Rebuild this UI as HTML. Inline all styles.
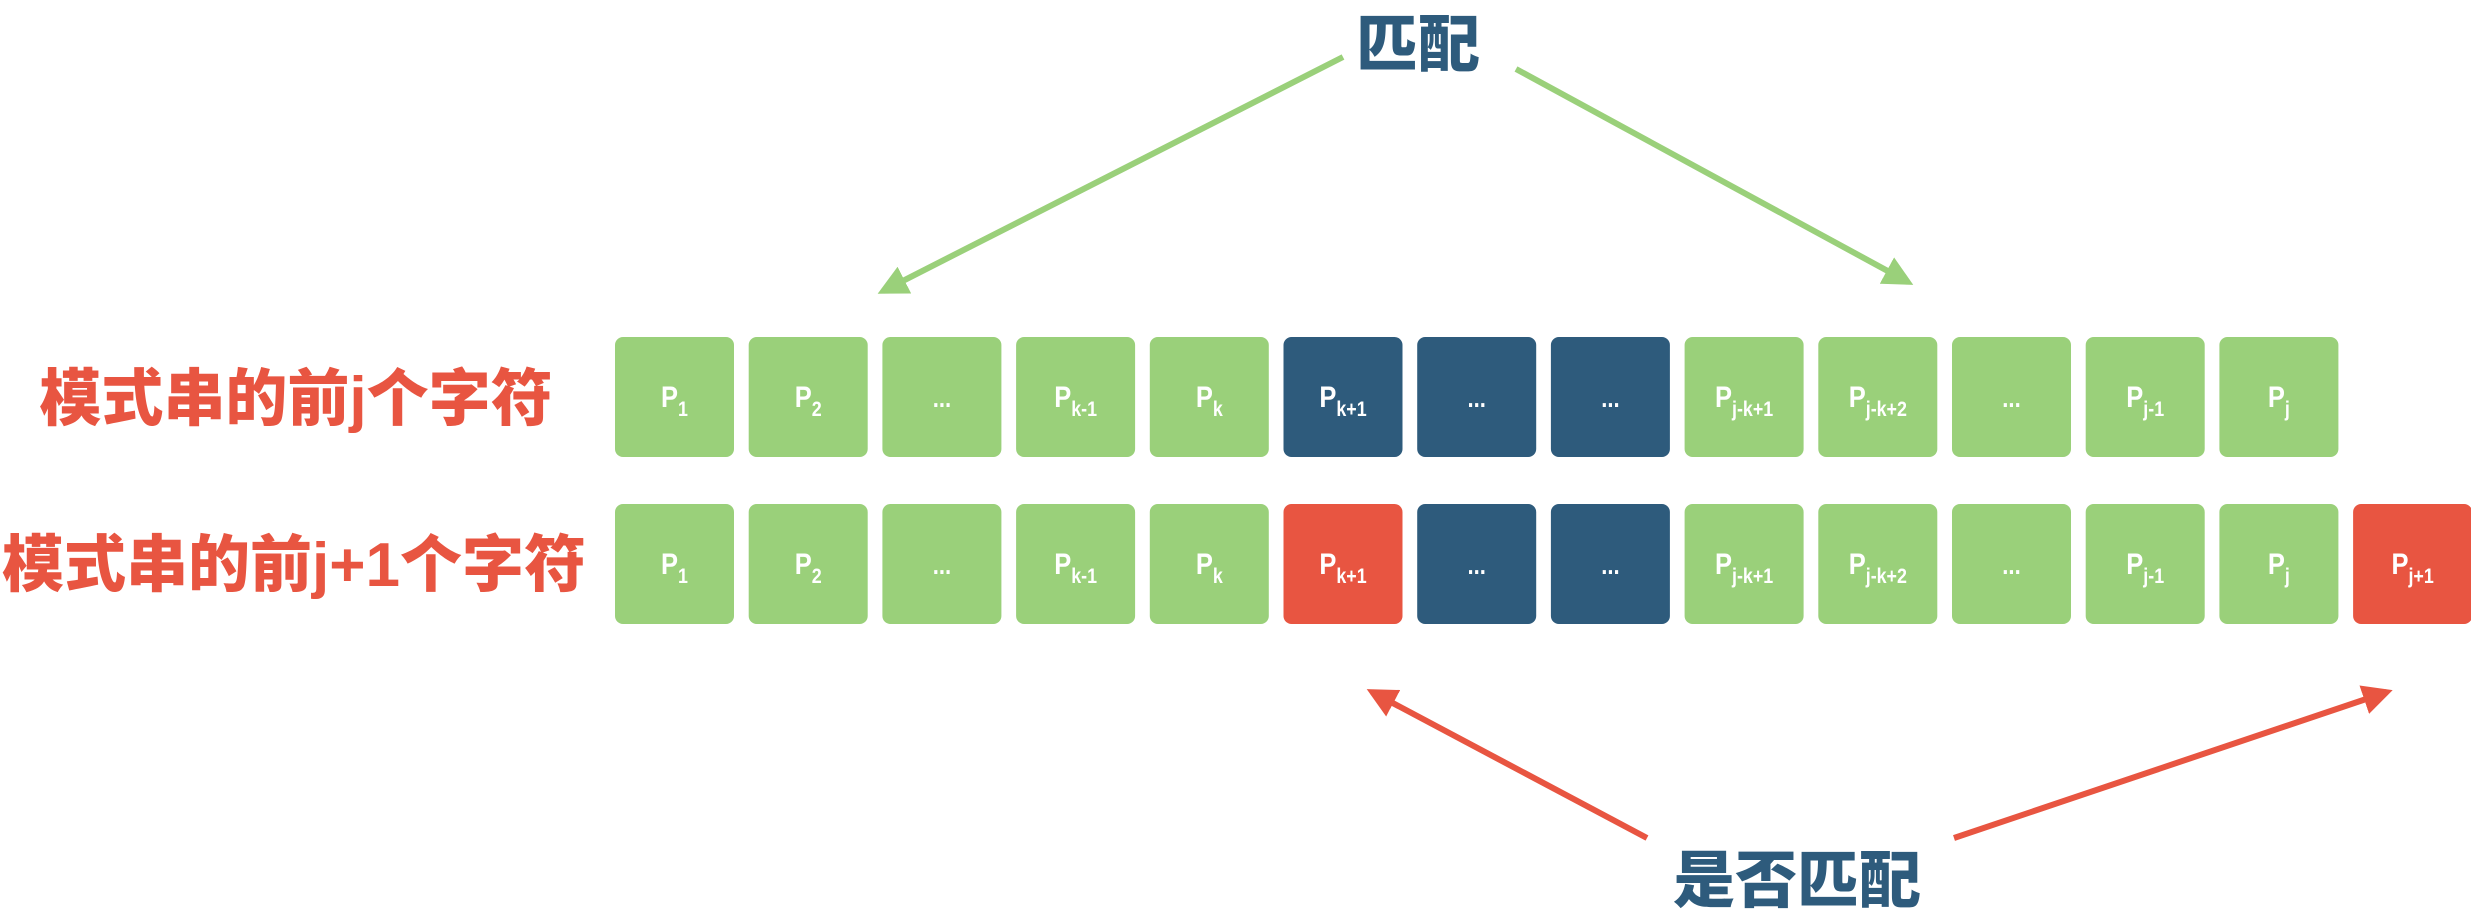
<!DOCTYPE html>
<html><head><meta charset="utf-8"><style>
html,body{margin:0;padding:0;background:#fff;}
svg{display:block;}
.cj{font-family:"Liberation Sans","Noto Sans CJK SC",sans-serif;font-weight:900;}
.bt{font-family:"Liberation Sans",sans-serif;font-weight:bold;fill:#fff;}
</style></head><body>
<svg width="2471" height="923" viewBox="0 0 2471 923">
<defs>
<marker id="ag" viewBox="0 0 10 10" refX="8" refY="5" markerWidth="5" markerHeight="5" orient="auto"><path d="M0,0L10,5L0,10z" fill="#9ad07a"/></marker>
<marker id="ar" viewBox="0 0 10 10" refX="8" refY="5" markerWidth="5" markerHeight="5" orient="auto"><path d="M0,0L10,5L0,10z" fill="#e85541"/></marker>
</defs>
<text class="cj" x="1418" y="66" font-size="62" fill="#2e5b7c" text-anchor="middle">匹配</text>
<line x1="1343" y1="57" x2="883" y2="291" stroke="#9ad07a" stroke-width="6" marker-end="url(#ag)"/>
<line x1="1516" y1="69" x2="1908" y2="282" stroke="#9ad07a" stroke-width="6" marker-end="url(#ag)"/>
<text class="cj" x="296" y="420" font-size="62" fill="#e85541" text-anchor="middle">模式串的前j个字符</text>
<text class="cj" x="294" y="586" font-size="62" fill="#e85541" text-anchor="middle">模式串的前j+1个字符</text>
<g id="rows"></g>
<line x1="1647" y1="838" x2="1372" y2="692" stroke="#e85541" stroke-width="6" marker-end="url(#ar)"/>
<line x1="1954" y1="838" x2="2387" y2="692" stroke="#e85541" stroke-width="6" marker-end="url(#ar)"/>
<text class="cj" x="1797" y="902" font-size="62" fill="#2e5b7c" text-anchor="middle">是否匹配</text>
</svg>
<script>
const labelsMain = ["1","2","…","k-1","k","k+1","…","…","j-k+1","j-k+2","…","j-1","j","j+1"];
const row1Colors = ["g","g","g","g","g","b","b","b","g","g","g","g","g",""];
const row2Colors = ["g","g","g","g","g","r","b","b","g","g","g","g","g","r"];
const col={g:"#9ad07a",b:"#2e5b7c",r:"#e85541"};
const NS="http://www.w3.org/2000/svg";
const g=document.getElementById('rows');
function row(colors,y,name){
  colors.forEach((c,i)=>{
    if(!c)return;
    const x=615+i*133.7;
    const r=document.createElementNS(NS,'rect');
    r.setAttribute('x',x);r.setAttribute('y',y);r.setAttribute('width',119);r.setAttribute('height',120);
    r.setAttribute('rx',8);r.setAttribute('fill',col[c]);
    
    
    g.appendChild(r);
    const cx=x+59.5;
    const t=document.createElementNS(NS,'text');
    t.setAttribute('class','bt');t.setAttribute('x',0);t.setAttribute('y',y+70);
    t.setAttribute('text-anchor','middle');t.setAttribute('font-size','26');
    t.setAttribute('transform','translate('+cx+',0) scale(0.85,1)');
    const L=labelsMain[i];
    if(L==="…"){t.textContent="...";}
    else{
      const p=document.createElementNS(NS,'tspan');p.textContent="P";p.setAttribute('font-size','30');
      const s=document.createElementNS(NS,'tspan');s.textContent=L;s.setAttribute('font-size','21');s.setAttribute('dy','9');
      t.appendChild(p);t.appendChild(s);
    }
    
    
    g.appendChild(t);
  });
}
row(row1Colors,337,'row1');
row(row2Colors,504,'row2');
</script>
</body></html>
